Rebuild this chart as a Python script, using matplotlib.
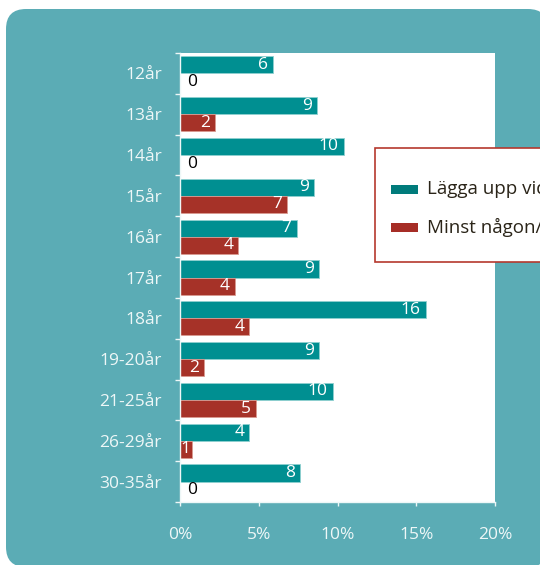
import matplotlib
matplotlib.use("Agg")
import matplotlib.pyplot as plt
from matplotlib.patches import FancyBboxPatch, Rectangle
from matplotlib.transforms import IdentityTransform, offset_copy

categories = ["12år", "13år", "14år", "15år", "16år", "17år", "18år",
              "19-20år", "21-25år", "26-29år", "30-35år"]
teal_values = [5.9, 8.7, 10.4, 8.5, 7.4, 8.8, 15.6, 8.8, 9.7, 4.4, 7.6]
red_values = [0.0, 2.2, 0.0, 6.8, 3.7, 3.5, 4.4, 1.5, 4.8, 0.75, 0.0]
teal_labels = ["6", "9", "10", "9", "7", "9", "16", "9", "10", "4", "8"]
red_labels = ["0", "2", "0", "7", "4", "4", "4", "2", "5", "1", "0"]
series_names = ["Lägga upp videoklipp", "Minst någon/några gånger"]
xticks = [0, 5, 10, 15, 20]
xtick_labels = ["0%", "5%", "10%", "15%", "20%"]

FONT = "Open Sans"
BG = "#5BACB5"
TEAL = "#008F91"
RED = "#A63228"
LIGHT = "#EEF7F7"

fig = plt.figure(figsize=(5.4, 5.65), dpi=100, facecolor="white")

bg = FancyBboxPatch((6, -2), 542, 558, boxstyle="round,pad=0,rounding_size=20",
                    transform=IdentityTransform(), facecolor=BG, edgecolor="none", zorder=0)
fig.add_artist(bg)

ax = fig.add_axes([180 / 540, 63 / 565, 315 / 540, 449 / 565])
ax.set_facecolor("white")
ax.set_zorder(1)

n = len(categories)
ypos = list(range(n))
h = 0.42
ax.barh([y - h / 2 for y in ypos], teal_values, height=h, color=TEAL,
        edgecolor="#8fd0d0", linewidth=0.6, zorder=2)
ax.barh([y + h / 2 for y in ypos], red_values, height=h, color=RED,
        edgecolor="#d89a90", linewidth=0.6, zorder=2)

inside = offset_copy(ax.transData, fig=fig, x=-5, y=0, units="dots")
inside_small = offset_copy(ax.transData, fig=fig, x=-1, y=0, units="dots")
outside = offset_copy(ax.transData, fig=fig, x=7, y=0, units="dots")
for y, v, lab in zip(ypos, teal_values, teal_labels):
    if v > 0:
        ax.text(v, y - h / 2, lab, transform=inside, ha="right", va="center",
                color="white", fontsize=12.5, family=FONT, zorder=3)
    else:
        ax.text(0, y - h / 2, lab, transform=outside, ha="left", va="center",
                color="black", fontsize=12.5, family=FONT, zorder=3)
for y, v, lab in zip(ypos, red_values, red_labels):
    if v > 0:
        ax.text(v, y + h / 2, lab, transform=inside if v > 0.9 else inside_small,
                ha="right", va="center",
                color="white", fontsize=12.5, family=FONT, zorder=3)
    else:
        ax.text(0, y + h / 2, lab, transform=outside, ha="left", va="center",
                color="black", fontsize=12.5, family=FONT, zorder=3)

ax.set_xlim(0, 20)
ax.set_ylim(n - 0.5, -0.5)
ax.set_xticks(xticks)
ax.set_xticklabels(xtick_labels, family=FONT, fontsize=12.5, color=LIGHT)
ax.set_yticks(ypos)
ax.set_yticklabels(categories, family=FONT, fontsize=12.5, color=LIGHT)
ax.set_yticks([y - 0.5 for y in range(n + 1)], minor=True)
ax.tick_params(axis="y", which="major", length=0, pad=13)
ax.tick_params(axis="y", which="minor", length=3.6, width=1, color=LIGHT)
ax.tick_params(axis="x", which="major", length=3, width=1, color=LIGHT, pad=15)
for s in ["top", "right"]:
    ax.spines[s].set_visible(False)
for s in ["left", "bottom"]:
    ax.spines[s].set_color(LIGHT)
    ax.spines[s].set_linewidth(1)

# legend box (partially outside the figure, as in the reference)
px = IdentityTransform()
leg_box = Rectangle((375, 565 - 262), 260, 114, transform=px, facecolor="white",
                    edgecolor="#B5382E", linewidth=1.2, zorder=5)
fig.add_artist(leg_box)
rows_y = [565 - 189, 565 - 227]
handle_colors = ["#007B7B", "#A62D26"]
for ry, col, name in zip(rows_y, handle_colors, series_names):
    fig.add_artist(Rectangle((391, ry - 4.5), 27, 9, transform=px,
                             facecolor=col, edgecolor="none", zorder=6))
    fig.text(427 / 540, ry / 565, name, ha="left", va="center", fontsize=13.5,
             family=FONT, color="#2A2418", zorder=7)

fig.savefig("out.png", dpi=100, facecolor="white")
